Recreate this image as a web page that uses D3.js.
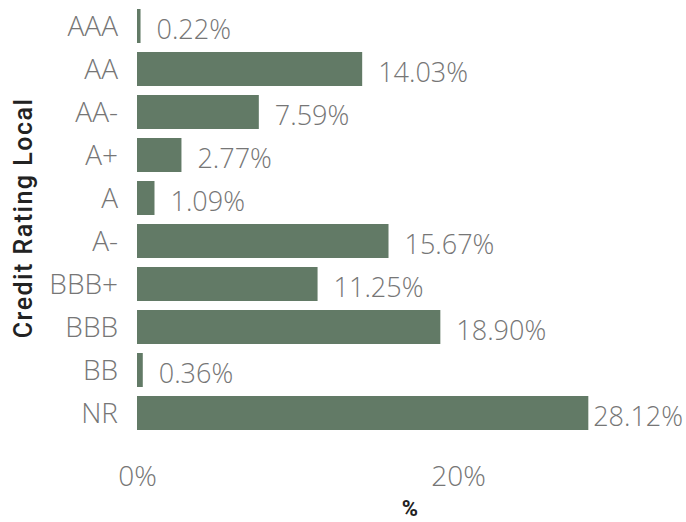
<!DOCTYPE html>
<html><head><meta charset="utf-8">
<script src="https://cdn.jsdelivr.net/npm/d3@7"></script>
<style>body{margin:0;background:#fff}svg{display:block}</style>
</head><body>
<script>
const categories = ["AAA","AA","AA-","A+","A","A-","BBB+","BBB","BB","NR"];
const values = [0.22,14.03,7.59,2.77,1.09,15.67,11.25,18.90,0.36,28.12];
const xTicks = [0,20];

const W=686,H=522;
const svg=d3.select("body").append("svg").attr("width",W).attr("height",H);
const x=d3.scaleLinear().domain([0,20]).range([137,458]);
const y=d3.scaleBand().domain(categories).range([0,439]).paddingInner(0.2093).paddingOuter(0.2093);
const lightFont="'Open Sans', sans-serif";
const grey="#767676";

svg.selectAll("rect.bar").data(values).join("rect").attr("class","bar")
  .attr("x",x(0)).attr("y",(d,i)=>y(categories[i]))
  .attr("width",d=>x(d)-x(0)).attr("height",y.bandwidth()).attr("fill","#627a66");

svg.selectAll("text.val").data(values).join("text").attr("class","val")
  .attr("x",d=>x(d)+16).attr("y",(d,i)=>y(categories[i])+y.bandwidth()/2+3)
  .attr("dy","0.36em")
  .attr("font-family",lightFont).attr("font-weight",300).attr("font-size",27).attr("fill",grey)
  .text(d=>d.toFixed(2)+"%")
  .each(function(d){
    const w=this.getComputedTextLength();
    const x0=x(d)+16;
    if(x0+w>W-2) d3.select(this).attr("x",Math.max(x(d)+2,W-3-w));
  });

const yAxis=d3.axisLeft(y).tickSize(0).tickPadding(0);
const gy=svg.append("g").attr("transform","translate(118,0)").call(yAxis);
gy.select(".domain").remove();
gy.selectAll("text").attr("font-family",lightFont).attr("font-weight",300).attr("font-size",28).attr("fill",grey).attr("dy","0.36em");

const xAxis=d3.axisBottom(x).tickValues(xTicks).tickFormat(d=>d+"%").tickSize(0).tickPadding(0);
const gx=svg.append("g").attr("transform","translate(0,476)").call(xAxis);
gx.select(".domain").remove();
gx.selectAll("text").attr("font-family",lightFont).attr("font-weight",300).attr("font-size",28).attr("fill",grey).attr("dy","0.36em");

svg.append("text").attr("transform","translate(32,218) rotate(-90)").attr("text-anchor","middle")
  .attr("font-family","Roboto, sans-serif").attr("font-weight",500).attr("font-size",25).attr("fill","#222")
  .attr("letter-spacing",1.5)
  .text("Credit Rating Local");
svg.append("text").attr("x",410).attr("y",516).attr("text-anchor","middle")
  .attr("font-family","Roboto, sans-serif").attr("font-weight",700).attr("font-size",22).attr("fill","#222")
  .text("%");
</script>
</body></html>
